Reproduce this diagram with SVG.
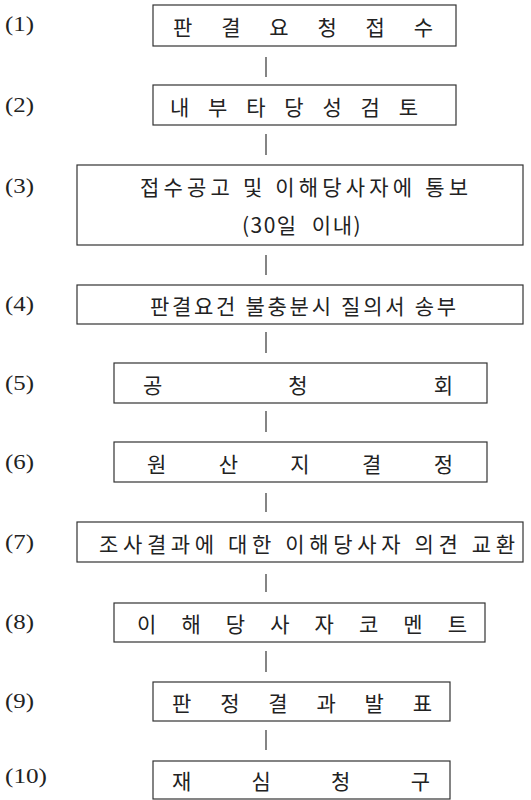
<svg xmlns="http://www.w3.org/2000/svg" width="531" height="800" viewBox="0 0 531 800">
<style>
.box{fill:#fff;stroke:#333;stroke-width:1.2}
.t{font-family:"Noto Sans CJK KR","Noto Sans",sans-serif;font-size:21px;fill:#222;dominant-baseline:central}
.lab{font-family:"Liberation Serif","DejaVu Serif",serif;font-size:21px;fill:#222;dominant-baseline:central}
.conn line{stroke:#333;stroke-width:1.2}
</style>
<rect width="531" height="800" fill="#fff"/>
<g id="labels">
<text class="lab" x="5" y="24" textLength="29" lengthAdjust="spacingAndGlyphs">(1)</text>
<text class="lab" x="5" y="105" textLength="29" lengthAdjust="spacingAndGlyphs">(2)</text>
<text class="lab" x="5" y="186" textLength="29" lengthAdjust="spacingAndGlyphs">(3)</text>
<text class="lab" x="5" y="304" textLength="29" lengthAdjust="spacingAndGlyphs">(4)</text>
<text class="lab" x="5" y="383" textLength="29" lengthAdjust="spacingAndGlyphs">(5)</text>
<text class="lab" x="5" y="462" textLength="29" lengthAdjust="spacingAndGlyphs">(6)</text>
<text class="lab" x="5" y="542" textLength="29" lengthAdjust="spacingAndGlyphs">(7)</text>
<text class="lab" x="5" y="622" textLength="29" lengthAdjust="spacingAndGlyphs">(8)</text>
<text class="lab" x="5" y="701" textLength="29" lengthAdjust="spacingAndGlyphs">(9)</text>
<text class="lab" x="5" y="776" textLength="42" lengthAdjust="spacingAndGlyphs">(10)</text>
</g>
<g id="connectors" class="conn">
<line x1="266" y1="57" x2="266" y2="77"/>
<line x1="266" y1="134" x2="266" y2="155"/>
<line x1="266" y1="255" x2="266" y2="275"/>
<line x1="266" y1="332" x2="266" y2="353"/>
<line x1="266" y1="411" x2="266" y2="432"/>
<line x1="266" y1="493" x2="266" y2="512"/>
<line x1="266" y1="574" x2="266" y2="592"/>
<line x1="266" y1="651" x2="266" y2="672"/>
<line x1="266" y1="730" x2="266" y2="750"/>
</g>
<g id="n1"><rect class="box" x="153" y="5" width="303" height="41"/><text class="t" x="173" y="26" textLength="260" lengthAdjust="spacing">판 결 요 청 접 수</text></g>
<g id="n2"><rect class="box" x="153" y="85" width="303" height="40"/><text class="t" x="170" y="106" textLength="248" lengthAdjust="spacing">내 부 타 당 성 검 토</text></g>
<g id="n3"><rect class="box" x="77" y="165" width="446" height="80"/><text class="t" x="140" y="186" textLength="328" lengthAdjust="spacing">접수공고 및 이해당사자에 통보</text><text class="t" x="302" y="224" text-anchor="middle" word-spacing="8" letter-spacing="1.5">(30일 이내)</text></g>
<g id="n4"><rect class="box" x="77" y="285" width="446" height="39"/><text class="t" x="150" y="305" textLength="306" lengthAdjust="spacing">판결요건 불충분시 질의서 송부</text></g>
<g id="n5"><rect class="box" x="114" y="363" width="373" height="40"/><text class="t" x="143" y="384" textLength="310" lengthAdjust="spacing">공 청 회</text></g>
<g id="n6"><rect class="box" x="114" y="442" width="373" height="40"/><text class="t" x="147" y="463" textLength="306" lengthAdjust="spacing">원 산 지 결 정</text></g>
<g id="n7"><rect class="box" x="77" y="522" width="446" height="40"/><text class="t" x="99" y="543" textLength="416" lengthAdjust="spacing">조사결과에 대한 이해당사자 의견 교환</text></g>
<g id="n8"><rect class="box" x="114" y="603" width="371" height="39"/><text class="t" x="137" y="623" textLength="330" lengthAdjust="spacing">이 해 당 사 자 코 멘 트</text></g>
<g id="n9"><rect class="box" x="153" y="682" width="297" height="39"/><text class="t" x="172" y="702" textLength="260" lengthAdjust="spacing">판 정 결 과 발 표</text></g>
<g id="n10"><rect class="box" x="153" y="761" width="297" height="38"/><text class="t" x="172" y="780" textLength="258" lengthAdjust="spacing">재 심 청 구</text></g>
</svg>
